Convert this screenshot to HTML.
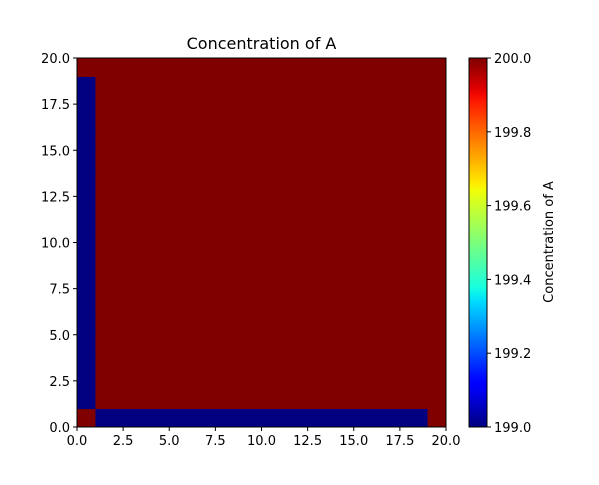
<!DOCTYPE html>
<html><head><meta charset="utf-8"><style>
body{margin:0;background:#fff;}
svg text{font-family:"DejaVu Sans","Liberation Sans",sans-serif;fill:#000;}
</style></head><body>
<svg id="chart" width="599" height="480" viewBox="0 0 599 480" xmlns="http://www.w3.org/2000/svg">
<defs>
<linearGradient id="jet" x1="0" y1="1" x2="0" y2="0"></linearGradient>
</defs>
<g id="cells"></g>
<rect x="77" y="58" width="369" height="369" fill="none" stroke="#000" stroke-width="1"/>
<g id="xticks"></g>
<g id="yticks"></g>
<text x="261.5" y="49" font-size="16" text-anchor="middle">Concentration of A</text>
<rect x="469" y="58" width="18" height="369" fill="url(#jet)" stroke="#000" stroke-width="1"/>
<g id="cticks"></g>
<text transform="translate(553,242) rotate(-90)" font-size="13" text-anchor="middle">Concentration of A</text>
</svg>
<script>
// rows from y=0 (bottom) to y=19 (top)
const row0 = [200,199,199,199,199,199,199,199,199,199,199,199,199,199,199,199,199,199,199,200];
const rowMid = [199,200,200,200,200,200,200,200,200,200,200,200,200,200,200,200,200,200,200,200];
const rowTop = [200,200,200,200,200,200,200,200,200,200,200,200,200,200,200,200,200,200,200,200];
const gridValues = [row0,rowMid,rowMid,rowMid,rowMid,rowMid,rowMid,rowMid,rowMid,rowMid,rowMid,rowMid,rowMid,rowMid,rowMid,rowMid,rowMid,rowMid,rowMid,rowTop];
const xTickLabels = ["0.0","2.5","5.0","7.5","10.0","12.5","15.0","17.5","20.0"];
const yTickLabels = ["0.0","2.5","5.0","7.5","10.0","12.5","15.0","17.5","20.0"];
const cTickLabels = ["199.0","199.2","199.4","199.6","199.8","200.0"];
const vmin = 199, vmax = 200;

const L=77,R=446,T=58,B=427;
const sx = v => L + (R-L)*v/20;
const sy = v => B - (B-T)*v/20;
const sc = v => B - (B-T)*(v-vmin)/(vmax-vmin);
const NS="http://www.w3.org/2000/svg";
function seg(t,pts){
  for(let k=1;k<pts.length;k++){
    if(t<=pts[k][0]){const a=pts[k-1],b=pts[k];return a[1]+(b[1]-a[1])*(t-a[0])/(b[0]-a[0]);}
  }
  return pts[pts.length-1][1];
}
function jet(t){
  const r=seg(t,[[0,0],[0.35,0],[0.66,1],[0.89,1],[1,0.5]]);
  const g=seg(t,[[0,0],[0.125,0],[0.375,1],[0.64,1],[0.91,0],[1,0]]);
  const b=seg(t,[[0,0.5],[0.11,1],[0.34,1],[0.65,0],[1,0]]);
  return `rgb(${Math.round(r*255)},${Math.round(g*255)},${Math.round(b*255)})`;
}
const grad=document.getElementById('jet');
for(let k=0;k<=50;k++){
  const s=document.createElementNS(NS,'stop');
  s.setAttribute('offset',k/50);s.setAttribute('stop-color',jet(k/50));
  grad.appendChild(s);
}
const cells=document.getElementById('cells');
gridValues.forEach((row,j)=>row.forEach((v,i)=>{
  const r=document.createElementNS(NS,'rect');
  r.setAttribute('x',sx(i)); r.setAttribute('y',sy(j+1));
  r.setAttribute('width',sx(i+1)-sx(i)+0.5); r.setAttribute('height',sy(j)-sy(j+1)+0.5);
  r.setAttribute('fill',jet((v-vmin)/(vmax-vmin)));
  
  
  cells.appendChild(r);
}));
function tick(g,x1,y1,x2,y2,tx,ty,anchor,label,name){
  const l=document.createElementNS(NS,'line');
  l.setAttribute('x1',x1);l.setAttribute('y1',y1);l.setAttribute('x2',x2);l.setAttribute('y2',y2);
  l.setAttribute('stroke','#000');
  
  
  g.appendChild(l);
  const t=document.createElementNS(NS,'text');
  t.setAttribute('x',tx);t.setAttribute('y',ty);t.setAttribute('font-size','13');
  t.setAttribute('text-anchor',anchor);t.textContent=label;
  
  
  g.appendChild(t);
}
const xg=document.getElementById('xticks'),yg=document.getElementById('yticks'),cg=document.getElementById('cticks');
xTickLabels.forEach(s=>{const x=sx(parseFloat(s));tick(xg,x,B,x,B+4,x,B+18,'middle',s,'x-tick');});
yTickLabels.forEach(s=>{const y=sy(parseFloat(s));tick(yg,L-4,y,L,y,L-7,y+5,'end',s,'y-tick');});
cTickLabels.forEach(s=>{const y=sc(parseFloat(s));tick(cg,487,y,491,y,494,y+5,'start',s,'colorbar-tick');});
</script>
</body></html>
